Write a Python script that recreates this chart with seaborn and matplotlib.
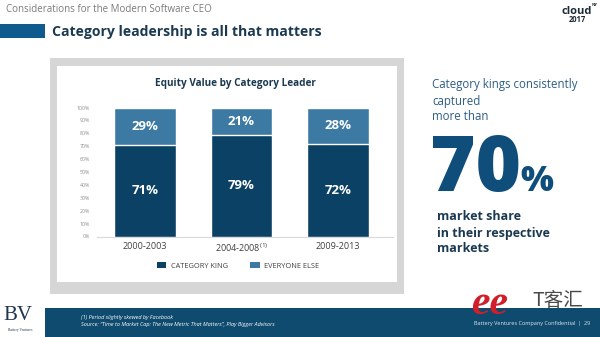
import matplotlib
matplotlib.use("Agg")
import matplotlib.pyplot as plt
from matplotlib.patches import Rectangle, Patch
import seaborn as sns
import pandas as pd

# ---------------- data ----------------
periods = ["2000-2003", "2004-2008", "2009-2013"]
tick_labels = ["2000-2003", "2004-2008$^{\\mathregular{(1)}}$", "2009-2013"]
category_king = [71, 79, 72]
everyone_else = [29, 21, 28]
y_ticks = [0, 10, 20, 30, 40, 50, 60, 70, 80, 90, 100]
legend_labels = ["CATEGORY KING", "EVERYONE ELSE"]

# ---------------- style ----------------
sns.set_style("white")
plt.rcParams["font.family"] = ["Open Sans", "DejaVu Sans"]

DARK = "#0c4166"
LIGHT = "#3c7aa3"
NAVY_TXT = "#1b3a52"

W, H = 600, 337
fig = plt.figure(figsize=(6, 3.37), dpi=100)
fig.patch.set_facecolor("white")


def fx(x):
    return x / W


def fy(y):
    return 1 - y / H


def rect(x0, y0, x1, y1, color, z=-5):
    fig.add_artist(Rectangle((fx(x0), fy(y1)), (x1 - x0) / W, (y1 - y0) / H,
                             transform=fig.transFigure, facecolor=color,
                             edgecolor="none", zorder=z))


# slide decorations
rect(0, 24, 45, 38, "#0f5b8d")
rect(50, 58, 404, 294, "#d6d6d6", z=-6)
rect(57, 66, 397, 282, "white", z=-5)
rect(45, 308, 600, 337, "#0f4a6f", z=-5)

fig.text(fx(6), fy(9.5), "Considerations for the Modern Software CEO",
         fontsize=7, color="#7a7a7a", va="center", ha="left")
fig.text(fx(52), fy(32), "Category leadership is all that matters",
         fontsize=10.1, fontweight="bold", color=NAVY_TXT, va="center", ha="left")

# cloud NY 2017 logo
fig.text(fx(577), fy(11), "cloud", fontsize=8, fontweight="bold",
         color="#1e2a36", ha="center", va="center")
fig.text(fx(592), fy(5), "NY", fontsize=3, fontweight="bold",
         color="#1e2a36", ha="left", va="center")
fig.text(fx(577), fy(20), "2017", fontsize=5.5, fontweight="bold",
         color="#1e2a36", ha="center", va="center")

# ---------------- chart ----------------
df = pd.DataFrame({"period": periods,
                   "king": category_king,
                   "else": everyone_else})
df["total"] = df["king"] + df["else"]

ax = fig.add_axes([fx(97), fy(236.5), (393 - 97) / W, 129 / H])
ax.set_facecolor("none")
sns.barplot(data=df, x="period", y="total", color=LIGHT, saturation=1,
            width=0.64, ax=ax, zorder=2)
sns.barplot(data=df, x="period", y="king", color=DARK, saturation=1,
            width=0.64, ax=ax, zorder=3)

for i, (k, e) in enumerate(zip(category_king, everyone_else)):
    ax.text(i, k / 2, f"{k}%", ha="center", va="center", color="white",
            fontsize=9.5, fontweight="bold", zorder=5)
    ax.text(i, k + e / 2, f"{e}%", ha="center", va="center", color="white",
            fontsize=9.5, fontweight="bold", zorder=5)

ax.set_xlim(-0.497, 2.57)
ax.set_ylim(0, 100)
ax.set_yticks(y_ticks)
ax.set_yticklabels([f"{v}%" for v in y_ticks], fontsize=3.8, color="#8f8f8f")
ax.set_xticks(range(len(periods)))
ax.set_xticklabels(tick_labels, fontsize=6.5, color="#404040")
ax.tick_params(axis="y", length=0, pad=5)
ax.tick_params(axis="x", length=0, pad=4)
ax.set_xlabel("")
ax.set_ylabel("")
for s in ["top", "right", "left"]:
    ax.spines[s].set_visible(False)
ax.spines["bottom"].set_color("#d9d9d9")
ax.spines["bottom"].set_linewidth(0.8)

fig.text(fx(235), fy(84), "Equity Value by Category Leader", fontsize=7.2,
         fontweight="bold", color=NAVY_TXT, ha="center", va="center")

handles = [Patch(facecolor=DARK, edgecolor="none"),
           Patch(facecolor=LIGHT, edgecolor="none")]
fig.legend(handles, legend_labels, ncol=2, loc="center",
           bbox_to_anchor=(fx(238), fy(266)), frameon=False, fontsize=5.3,
           labelcolor="#404040", handlelength=1.3, handleheight=0.9,
           columnspacing=3.0, handletextpad=0.6)

# ---------------- right hand callout ----------------
CALL = "#2d5d86"
for txt, y in [("Category kings consistently", 85), ("captured", 102),
               ("more than", 117)]:
    fig.text(fx(432), fy(y), txt, fontsize=8.3, color=CALL,
             ha="left", va="center")
fig.text(fx(430), fy(191), "70", fontsize=56, fontweight="heavy",
         color="#0f4e7b", ha="left", va="baseline")
fig.text(fx(520), fy(191), "%", fontsize=25, fontweight="heavy",
         color="#0f4e7b", ha="left", va="baseline")
for txt, y in [("market share", 217), ("in their respective", 233),
               ("markets", 248)]:
    fig.text(fx(437), fy(y), txt, fontsize=9, fontweight="bold",
             color=NAVY_TXT, ha="left", va="center")

# ---------------- footer ----------------
fig.text(fx(18), fy(316), "BV", fontsize=15, family=["Liberation Serif"],
         color="#1f3550", ha="center", va="center")
fig.text(fx(20), fy(330.5), "Battery Ventures", fontsize=2.6,
         family=["Liberation Serif"], color="#1f3550", ha="center", va="center")
fig.text(fx(81), fy(317), "(1) Period slightly skewed by Facebook",
         fontsize=4, style="italic", color="white", ha="left", va="center")
fig.text(fx(81), fy(324.5),
         "Source: \u201cTime to Market Cap: The New Metric That Matters\u201d, Play Bigger Advisors",
         fontsize=4, style="italic", color="white", ha="left", va="center")
fig.text(fx(590), fy(324), "Battery Ventures Company Confidential  |  29",
         fontsize=4, color="#dfe7ee", ha="right", va="center")

# watermark
fig.text(fx(490), fy(304), "ee", fontsize=30, fontweight="bold",
         style="italic", color="#d11f2a", ha="center", va="center",
         family=["Liberation Serif"])
fig.text(fx(558), fy(300), "T客汇", fontsize=14,
         family=["Noto Sans CJK SC", "DejaVu Sans"], color="#4a4a4a",
         ha="center", va="center")

fig.savefig("out.png", dpi=100)
